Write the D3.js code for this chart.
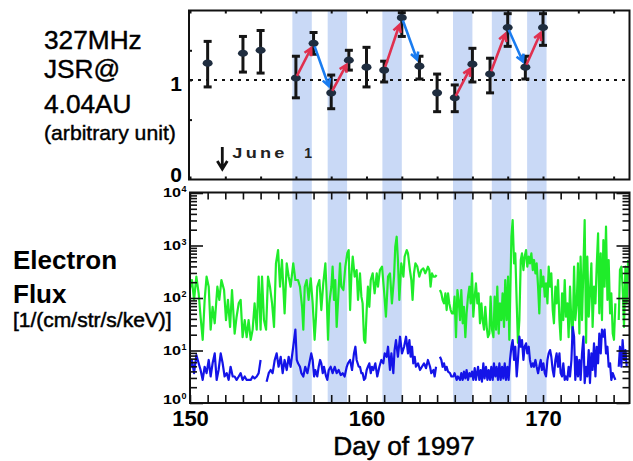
<!DOCTYPE html>
<html>
<head>
<meta charset="utf-8">
<script src="https://cdn.jsdelivr.net/npm/d3@7"></script>
<style>
  body { margin: 0; background: #fff; }
  svg { display: block; font-family: "Liberation Sans", Arial, sans-serif; }
</style>
</head>
<body>
<div id="viz"></div>
<script>
// ---- data ----
// shaded intervals (day of year)
var bandStart = [155.8, 157.8, 160.9, 164.9, 167.1, 169.1],
    bandEnd   = [156.9, 158.9, 162.0, 166.0, 168.2, 170.2];

// 327 MHz JSR @ 4.04 AU (arbitrary unit)
var jsrDays = [151, 153, 154, 156, 157, 158, 159, 160, 161, 162, 163, 164, 165, 166, 167, 168, 169, 170],
    jsrVal  = [1.17, 1.27, 1.30, 1.02, 1.37, 0.87, 1.20, 1.13, 1.10, 1.63, 1.14, 0.87, 0.82, 1.16, 1.06, 1.53, 1.13, 1.53],
    jsrLo   = [0.93, 1.08, 1.07, 0.82, 1.26, 0.71, 1.10, 0.93, 0.98, 1.44, 1.01, 0.68, 0.68, 0.98, 0.87, 1.34, 1.01, 1.35],
    jsrHi   = [1.39, 1.44, 1.50, 1.24, 1.48, 1.05, 1.30, 1.33, 1.19, 1.68, 1.24, 1.06, 0.95, 1.32, 1.22, 1.67, 1.24, 1.67];

// arrows between consecutive days
var arrowFrom = [156, 157, 158, 161, 162, 165, 167, 168, 169],
    arrowTo   = [157, 158, 159, 162, 163, 166, 168, 169, 170];

var juneFirst = 152;

// electron flux [day, flux], null = data gap
var greenFlux = [
  [149.98,142],[150.11,220],[150.23,92],[150.36,255],[150.49,123],[150.60,44],[150.72,16],[150.83,92],[150.94,255],[151.06,164],
  [151.17,25],[151.28,68],[151.40,33],[151.55,164],[151.66,92],[151.78,220],[151.93,142],[152.04,38],[152.15,92],[152.27,28],
  [152.38,142],[152.53,21],[152.64,44],[152.76,79],[152.87,92],[152.98,18],[153.10,38],[153.21,18],[153.32,38],[153.44,16],
  [153.55,25],[153.66,79],[153.78,25],[153.89,255],[154.00,25],[154.08,255],[154.19,38],[154.31,25],[154.42,255],[154.53,164],
  [154.65,79],[154.76,28],[154.87,457],[154.99,820],[155.10,164],[155.21,530],[155.36,51],[155.48,457],[155.59,255],[155.70,164],
  [155.85,457],[155.97,220],[156.12,220],[156.23,164],[156.35,68],[156.42,25],[156.50,164],[156.61,220],[156.72,92],[156.84,237],
  [156.95,79],[157.06,16],[157.14,44],[157.21,164],[157.33,220],[157.44,59],[157.55,190],[157.67,457],[157.74,123],[157.82,16],
  [157.89,79],[158.01,164],[158.08,395],[158.16,92],[158.23,220],[158.31,28],[158.38,79],[158.50,457],[158.57,164],[158.69,142],
  [158.80,395],[158.91,710],[158.99,820],[159.07,59],[159.14,255],[159.22,613],[159.33,255],[159.44,341],[159.52,92],[159.63,295],
  [159.71,106],[159.78,79],[159.86,16],[159.93,14],[160.01,59],[160.08,164],[160.16,68],[160.24,220],[160.35,295],[160.46,123],
  [160.58,295],[160.65,164],[160.76,341],[160.88,395],[160.99,142],[161.10,44],[161.22,255],[161.33,295],[161.44,79],[161.56,255],
  [161.63,950],[161.71,1470],[161.78,530],[161.86,92],[161.97,457],[162.09,255],[162.16,613],[162.28,820],[162.35,710],[162.46,341],
  [162.54,220],[162.61,92],[162.69,295],[162.77,457],[162.88,395],[162.99,255],[163.11,341],[163.22,367],[163.33,295],[163.41,341],
  [163.48,395],[163.56,341],[163.63,164],[163.71,295],[163.79,255],[163.90,255],[163.97,274],[164.06,null],[164.16,142],[164.24,123],
  [164.31,92],[164.39,79],[164.47,123],[164.54,59],[164.62,123],[164.69,79],[164.77,59],[164.84,51],[164.92,51],[164.99,106],
  [165.07,18],[165.15,142],[165.22,92],[165.30,38],[165.37,142],[165.45,33],[165.52,68],[165.60,18],[165.67,51],[165.75,106],
  [165.83,164],[165.90,79],[165.98,295],[166.05,44],[166.13,106],[166.20,190],[166.28,79],[166.35,123],[166.43,33],[166.51,79],
  [166.58,38],[166.66,25],[166.73,68],[166.81,28],[166.88,18],[166.96,21],[167.03,106],[167.11,25],[167.19,18],[167.26,106],
  [167.34,25],[167.41,164],[167.49,21],[167.56,79],[167.64,38],[167.71,123],[167.79,28],[167.86,220],[167.94,38],[168.02,255],
  [168.09,16],[168.21,1470],[168.28,3060],[168.36,457],[168.43,710],[168.51,79],[168.58,14],[168.66,38],[168.74,530],[168.81,710],
  [168.89,341],[168.96,613],[169.04,820],[169.11,395],[169.19,613],[169.26,457],[169.34,710],[169.42,341],[169.49,530],[169.57,295],
  [169.64,457],[169.72,164],[169.79,51],[169.87,341],[169.94,164],[170.02,255],[170.10,106],[170.17,190],[170.25,79],[170.32,395],
  [170.40,164],[170.47,295],[170.55,59],[170.62,33],[170.70,164],[170.77,79],[170.85,220],[170.93,38],[171.00,16],[171.08,123],
  [171.15,38],[171.23,220],[171.30,44],[171.38,79],[171.45,18],[171.53,164],[171.61,33],[171.68,18],[171.76,395],[171.83,38],
  [171.91,79],[171.98,457],[172.06,21],[172.13,613],[172.21,38],[172.29,395],[172.36,3060],[172.44,14],[172.51,613],[172.59,44],
  [172.66,123],[172.74,457],[172.81,28],[172.89,164],[172.97,79],[173.04,395],[173.12,1710],[173.19,51],[173.27,710],[173.34,38],
  [173.42,1270],[173.49,164],[173.57,2290],[173.65,92],[173.72,530],[173.80,51],[173.87,123],[173.95,21],[174.02,16],[174.10,79],
  [174.20,null],[174.29,38],[174.36,341],[174.44,395],[174.51,164],[174.59,28],[174.67,395],[174.74,79],[174.82,530]
];

var blueFlux = [
  [149.98,4.25],[150.11,6.6],[150.23,3.7],[150.36,8.2],[150.49,5.7],[150.60,4.25],[150.72,2.75],[150.83,4.9],[150.94,3.7],[151.06,6.6],
  [151.17,3.2],[151.28,5.7],[151.40,8.8],[151.51,2.75],[151.62,4.25],[151.74,8.8],[151.85,5.7],[151.96,3.2],[152.08,3.7],[152.19,2.75],
  [152.30,4.9],[152.42,3.2],[152.53,3.2],[152.64,2.75],[152.76,3.2],[152.87,3.7],[152.98,2.75],[153.10,3.2],[153.21,2.75],[153.32,2.75],
  [153.44,2.75],[153.55,3.2],[153.66,2.95],[153.78,3.2],[153.89,3.7],[154.00,6.6],[154.15,null],[154.34,2.55],[154.46,3.7],[154.57,4.25],
  [154.68,3.7],[154.80,6.6],[154.91,8.8],[155.02,4.9],[155.14,7.6],[155.25,3.7],[155.36,6.6],[155.48,4.25],[155.59,7.6],[155.70,4.9],
  [155.85,11.8],[155.97,25],[156.05,6.6],[156.12,5.7],[156.23,4.9],[156.31,3.7],[156.42,3.2],[156.53,4.9],[156.65,3.7],[156.76,5.7],
  [156.87,8.8],[156.95,6.6],[157.03,3.2],[157.10,4.25],[157.21,3.2],[157.29,4.9],[157.37,6.6],[157.44,5.7],[157.52,3.7],[157.59,4.9],
  [157.71,3.2],[157.78,2.75],[157.86,4.25],[157.97,4.9],[158.08,3.7],[158.20,4.9],[158.31,3.7],[158.42,4.25],[158.54,3.4],[158.65,3.7],
  [158.76,3.2],[158.88,4.9],[158.95,5.7],[159.07,6.6],[159.18,4.25],[159.29,8.8],[159.37,11.8],[159.44,6.6],[159.56,4.9],[159.63,4.9],
  [159.71,3.7],[159.78,3.7],[159.86,2.75],[159.93,2.95],[160.01,4.25],[160.08,4.9],[160.16,5.7],[160.24,3.7],[160.31,4.9],[160.39,4.25],
  [160.50,5.7],[160.61,3.2],[160.73,4.9],[160.84,6.6],[160.95,5.7],[161.03,8.8],[161.14,7.6],[161.22,11.8],[161.33,4.25],[161.41,8.8],
  [161.52,3.7],[161.59,10.2],[161.67,15.8],[161.78,7.6],[161.90,18.3],[162.01,8.8],[162.13,11.8],[162.24,18.3],[162.35,8.8],[162.43,15.8],
  [162.50,7.6],[162.58,11.8],[162.65,5.7],[162.73,7.6],[162.80,4.9],[162.92,5.7],[163.03,4.25],[163.14,4.9],[163.26,5.7],[163.37,4.6],
  [163.48,6.6],[163.60,4.9],[163.67,3.7],[163.79,4.25],[163.86,3.2],[163.94,4.9],[164.05,null],[164.16,7.6],[164.24,6.6],[164.31,4.9],
  [164.39,5.7],[164.47,4.25],[164.54,4.9],[164.62,3.95],[164.73,3.7],[164.81,3.2],[164.92,3.2],[164.99,3.7],[165.11,2.75],[165.18,3.2],
  [165.30,2.75],[165.37,3.7],[165.45,2.75],[165.52,3.95],[165.60,2.95],[165.67,4.25],[165.75,2.75],[165.83,3.7],[165.90,3.2],[165.98,3.95],
  [166.05,2.75],[166.13,4.6],[166.20,2.75],[166.32,4.9],[166.39,2.75],[166.47,4.25],[166.54,2.55],[166.62,5.7],[166.69,2.95],[166.77,4.9],
  [166.85,2.75],[166.92,4.25],[167.00,2.75],[167.07,4.9],[167.15,2.75],[167.22,5.7],[167.30,3.2],[167.37,4.9],[167.45,2.75],[167.53,5.7],
  [167.60,2.75],[167.68,4.9],[167.75,2.95],[167.83,5.7],[167.90,2.75],[167.98,4.9],[168.05,2.75],[168.13,6.6],[168.21,11.8],[168.28,15.8],
  [168.36,6.6],[168.43,11.8],[168.51,3.2],[168.58,6.6],[168.66,18.3],[168.74,11.8],[168.81,15.8],[168.89,6.6],[168.96,11.8],[169.04,13.7],
  [169.11,8.8],[169.19,11.8],[169.26,6.6],[169.34,4.9],[169.42,5.7],[169.49,4.9],[169.57,6.6],[169.64,4.9],[169.72,3.7],[169.79,4.9],
  [169.87,6.6],[169.94,4.25],[170.02,5.7],[170.10,3.7],[170.17,3.2],[170.25,6.6],[170.32,8.8],[170.40,10.2],[170.47,7.6],[170.55,4.25],
  [170.62,3.2],[170.70,6.6],[170.77,8.8],[170.85,4.9],[170.93,8.8],[171.00,3.7],[171.08,3.2],[171.15,5.7],[171.23,2.75],[171.30,3.2],
  [171.38,2.75],[171.45,4.9],[171.53,3.2],[171.61,6.6],[171.68,28],[171.76,18.3],[171.83,2.75],[171.91,7.6],[171.98,3.2],[172.06,6.6],
  [172.13,2.75],[172.21,8.8],[172.29,18.3],[172.36,2.4],[172.44,4.9],[172.51,3.2],[172.59,10.2],[172.66,2.4],[172.74,8.8],[172.81,4.25],
  [172.89,13.7],[172.97,3.2],[173.04,11.8],[173.12,5.7],[173.19,21],[173.27,8.8],[173.34,25],[173.42,18.3],[173.49,25],[173.57,8.8],
  [173.65,11.8],[173.72,4.9],[173.80,5.7],[173.87,2.75],[173.95,3.7],[174.02,3.2],[174.10,2.75],[174.20,null],[174.29,4.9],[174.36,11.8],
  [174.44,4.9],[174.51,15.8],[174.59,6.6],[174.67,10.2],[174.74,4.9]
];

var dayTicks = d3.range(150, 175),
    dayLabels = [150, 160, 170],
    fluxExps = [0, 1, 2, 3, 4],
    topTicks = [0.6, 1, 1.3],
    topLabels = [0, 1];

// ---- layout ----
var width = 633, height = 461;
var left = 190, right = 629.5,
    topY0 = 10.5, topY1 = 179.5,
    botY0 = 192.5, botY1 = 403;

var svg = d3.select('#viz').append('svg')
    .attr('width', width)
    .attr('height', height);

var x = d3.scaleLinear().domain([150, 174.9]).range([left, right]);
var yTop = d3.scaleLinear().domain([0, 1]).range([179, 80]);
var yFlux = d3.scaleLog().domain([1, 1e4]).range([botY1, 193]);

// shaded bands across both panels
svg.selectAll('rect.band')
    .data(bandStart)
    .enter().append('rect')
      .attr('class', 'band')
      .attr('x', function(d) { return x(d); })
      .attr('width', function(d, i) { return x(bandEnd[i]) - x(d); })
      .attr('y', topY0)
      .attr('height', botY1 - topY0)
      .attr('fill', '#c9d9f6');

// ================= top panel =================
var topG = svg.append('g');

topG.append('line')
    .attr('x1', left).attr('x2', right)
    .attr('y1', yTop(1)).attr('y2', yTop(1))
    .attr('stroke', '#111').attr('stroke-width', 2)
    .attr('stroke-dasharray', '3,5');

// error bars
var eb = topG.selectAll('g.eb')
    .data(jsrDays)
    .enter().append('g')
      .attr('class', 'eb')
      .attr('stroke', '#151515')
      .attr('stroke-width', 3);
eb.append('line')
    .attr('x1', function(d) { return x(d); }).attr('x2', function(d) { return x(d); })
    .attr('y1', function(d, i) { return yTop(jsrLo[i]); })
    .attr('y2', function(d, i) { return yTop(jsrHi[i]); });
eb.append('line')
    .attr('x1', function(d) { return x(d) - 4; }).attr('x2', function(d) { return x(d) + 4; })
    .attr('y1', function(d, i) { return yTop(jsrLo[i]); })
    .attr('y2', function(d, i) { return yTop(jsrLo[i]); });
eb.append('line')
    .attr('x1', function(d) { return x(d) - 4; }).attr('x2', function(d) { return x(d) + 4; })
    .attr('y1', function(d, i) { return yTop(jsrHi[i]); })
    .attr('y2', function(d, i) { return yTop(jsrHi[i]); });

topG.selectAll('ellipse.pt')
    .data(jsrDays)
    .enter().append('ellipse')
      .attr('class', 'pt')
      .attr('cx', function(d) { return x(d); })
      .attr('cy', function(d, i) { return yTop(jsrVal[i]); })
      .attr('rx', 5).attr('ry', 3.6)
      .attr('fill', '#1f2d3f');

// arrows, red when rising, blue when falling
function valAt(day) { return jsrVal[jsrDays.indexOf(day)]; }
arrowFrom.forEach(function(d0, i) {
  var d1 = arrowTo[i];
  var xa = x(d0), ya = yTop(valAt(d0)), xb = x(d1), yb = yTop(valAt(d1));
  var up = valAt(d1) > valAt(d0);
  var col = up ? '#e0304f' : '#1a7cf0';
  var s = 0.06, e = 0.86;
  var x0 = xa + (xb - xa) * s, y0 = ya + (yb - ya) * s,
      x1 = xa + (xb - xa) * e, y1 = ya + (yb - ya) * e;
  var ang = Math.atan2(y1 - y0, x1 - x0), L = 8, sp = 0.5;
  var path = d3.path();
  path.moveTo(x0, y0); path.lineTo(x1, y1);
  path.moveTo(x1 - L * Math.cos(ang - sp), y1 - L * Math.sin(ang - sp));
  path.lineTo(x1, y1);
  path.lineTo(x1 - L * Math.cos(ang + sp), y1 - L * Math.sin(ang + sp));
  topG.append('path')
      .attr('d', path.toString())
      .attr('fill', 'none')
      .attr('stroke', col)
      .attr('stroke-width', 2.6)
      .attr('stroke-linejoin', 'miter');
});

// June 1 marker
var jx = x(juneFirst) - 3;
topG.append('path')
    .attr('d', 'M' + jx + ',147V169M' + (jx - 5) + ',161L' + jx + ',169L' + (jx + 5) + ',161')
    .attr('fill', 'none').attr('stroke', '#111').attr('stroke-width', 2.8);
topG.append('text')
    .attr('x', jx + 10).attr('y', 158)
    .attr('font-size', 14).attr('font-weight', 'bold')
    .attr('letter-spacing', 2.5).attr('fill', '#222')
    .attr('transform', 'translate(' + (jx + 10) + ',0) scale(1.3,1) translate(' + (-(jx + 10)) + ',0)')
    .text('June');
topG.append('text')
    .attr('x', jx + 82).attr('y', 158)
    .attr('font-size', 14).attr('font-weight', 'bold').attr('fill', '#222')
    .text('1');

// frame and ticks
topG.append('rect')
    .attr('x', 189).attr('y', topY0)
    .attr('width', right - 189).attr('height', topY1 - topY0)
    .attr('fill', 'none').attr('stroke', '#111').attr('stroke-width', 2);

function thin(g) { g.select('.domain').remove(); g.selectAll('line').attr('stroke', '#111').attr('stroke-width', 2); }
var evenDays = dayTicks.filter(function(d) { return d % 2 === 0; });
topG.append('g').attr('transform', 'translate(0,' + topY0 + ')')
    .call(d3.axisTop(x).tickValues(evenDays).tickSize(-3).tickFormat(''))
    .call(thin);
topG.append('g').attr('transform', 'translate(0,' + topY1 + ')')
    .call(d3.axisBottom(x).tickValues(evenDays).tickSize(-3).tickFormat(''))
    .call(thin);
topG.append('g').attr('transform', 'translate(189,0)')
    .call(d3.axisLeft(yTop).tickValues(topTicks).tickSize(-3).tickFormat(''))
    .call(thin);
topG.append('g').attr('transform', 'translate(189,0)')
    .call(d3.axisLeft(yTop).tickValues(topLabels).tickSize(0).tickPadding(7).tickFormat(d3.format('d')))
    .call(function(g) {
      g.select('.domain').remove();
      g.selectAll('text').attr('font-size', 21).attr('font-weight', 'bold')
        .attr('font-family', '"Liberation Sans", Arial, sans-serif').attr('fill', '#000')
        .attr('dy', function(d) { return d === 0 ? '0.14em' : '0.48em'; });
    });

// ================= bottom panel =================
var botG = svg.append('g');

svg.append('clipPath').attr('id', 'clipBot')
  .append('rect')
    .attr('x', left).attr('y', botY0)
    .attr('width', right - left).attr('height', botY1 - botY0);

var line = d3.line()
    .defined(function(d) { return d[1] != null; })
    .x(function(d) { return x(d[0]); })
    .y(function(d) { return yFlux(d[1]); });

botG.append('path')
    .datum(greenFlux)
    .attr('clip-path', 'url(#clipBot)')
    .attr('d', line)
    .attr('fill', 'none')
    .attr('stroke', '#1fec2a')
    .attr('stroke-width', 2.2)
    .attr('stroke-linejoin', 'round');

botG.append('path')
    .datum(blueFlux)
    .attr('clip-path', 'url(#clipBot)')
    .attr('d', line)
    .attr('fill', 'none')
    .attr('stroke', '#1414e8')
    .attr('stroke-width', 2.2)
    .attr('stroke-linejoin', 'round');

botG.append('rect')
    .attr('x', left).attr('y', botY0)
    .attr('width', right - left).attr('height', botY1 - botY0)
    .attr('fill', 'none').attr('stroke', '#111').attr('stroke-width', 2);

function tidy(g) {
  g.select('.domain').remove();
  g.selectAll('line').attr('stroke', '#111').attr('stroke-width', 1.6);
}

// day ticks
botG.append('g').attr('transform', 'translate(0,' + botY1 + ')')
    .call(d3.axisBottom(x).tickValues(dayTicks).tickSize(-8).tickPadding(7)
      .tickFormat(function(d) { return dayLabels.indexOf(d) >= 0 ? d : ''; }))
    .call(tidy)
    .call(function(g) {
      g.selectAll('text').attr('font-size', 22).attr('font-weight', 'bold')
        .attr('font-family', '"Liberation Sans", Arial, sans-serif').attr('fill', '#000');
    });
botG.append('g').attr('transform', 'translate(0,' + botY0 + ')')
    .call(d3.axisTop(x).tickValues(dayTicks).tickSize(-7).tickFormat(''))
    .call(tidy);

// log ticks
var majorVals = fluxExps.map(function(e) { return Math.pow(10, e); });
var minorVals = [];
fluxExps.slice(0, -1).forEach(function(e) {
  d3.range(2, 10).forEach(function(m) { minorVals.push(m * Math.pow(10, e)); });
});
[[left, d3.axisLeft], [right, d3.axisRight]].forEach(function(side) {
  botG.append('g').attr('transform', 'translate(' + side[0] + ',0)')
      .call(side[1](yFlux).tickValues(majorVals).tickSize(-13).tickFormat(''))
      .call(tidy);
  botG.append('g').attr('transform', 'translate(' + side[0] + ',0)')
      .call(side[1](yFlux).tickValues(minorVals).tickSize(-7).tickFormat(''))
      .call(tidy);
});

// 10^n labels
var lab = botG.selectAll('g.loglab')
    .data(fluxExps)
    .enter().append('g')
      .attr('class', 'loglab')
      .attr('transform', function(d) { return 'translate(181,' + (yFlux(Math.pow(10, d)) + (d === 0 ? 1 : 4)) + ')'; });
lab.append('text')
    .attr('text-anchor', 'end')
    .attr('font-size', 12).attr('font-weight', 'bold')
    .attr('transform', 'scale(1.35,1)')
    .text('10');
lab.append('text')
    .attr('x', 0.5).attr('y', -5)
    .attr('font-size', 9).attr('font-weight', 'bold')
    .text(function(d) { return d; });

// ================= texts =================
var leftTop = ['327MHz', 'JSR@', '4.04AU'],
    leftTopY = [49, 78, 113];
svg.selectAll('text.lt')
    .data(leftTop)
    .enter().append('text')
      .attr('class', 'lt')
      .attr('x', 44).attr('y', function(d, i) { return leftTopY[i]; })
      .attr('font-size', 25).attr('fill', '#000')
      .attr('stroke', '#000').attr('stroke-width', 0.4)
      .attr('transform', 'translate(44,0) scale(1.05,1) translate(-44,0)')
      .text(function(d) { return d; });
svg.append('text')
    .attr('x', 44).attr('y', 140)
    .attr('font-size', 20).attr('fill', '#000')
    .attr('stroke', '#000').attr('stroke-width', 0.4)
    .attr('transform', 'translate(44,0) scale(1.06,1) translate(-44,0)')
    .text('(arbitrary unit)');

var leftBot = ['Electron', 'Flux'],
    leftBotY = [269, 303];
svg.selectAll('text.lb')
    .data(leftBot)
    .enter().append('text')
      .attr('class', 'lb')
      .attr('x', 13).attr('y', function(d, i) { return leftBotY[i]; })
      .attr('font-size', 26).attr('font-weight', 'bold').attr('fill', '#000')
      .text(function(d) { return d; });
svg.append('text')
    .attr('x', 13).attr('y', 327)
    .attr('font-size', 21).attr('fill', '#000')
    .attr('stroke', '#000').attr('stroke-width', 0.5)
    .text('[1/(cm/str/s/keV)]');

svg.append('text')
    .attr('x', 404).attr('y', 455)
    .attr('text-anchor', 'middle')
    .attr('font-size', 25).attr('fill', '#000')
    .attr('stroke', '#000').attr('stroke-width', 0.5)
    .attr('transform', 'translate(404,0) scale(1.05,1) translate(-404,0)')
    .text('Day of 1997');
</script>
</body>
</html>
